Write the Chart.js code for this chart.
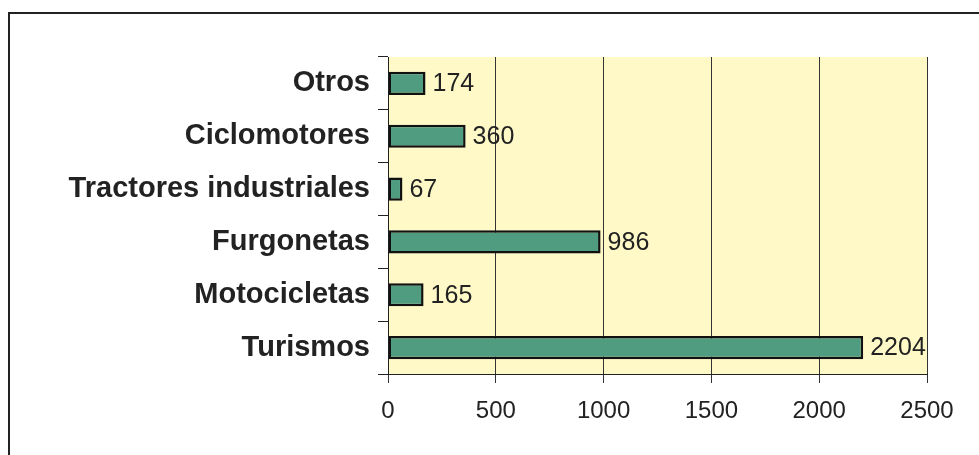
<!DOCTYPE html>
<html>
<head>
<meta charset="utf-8">
<script src="https://cdn.jsdelivr.net/npm/chart.js@4"></script>
<style>
  html, body { margin: 0; padding: 0; background: #fff; }
  #wrap { position: relative; width: 979px; height: 455px; overflow: hidden; }
  #frame { position: absolute; left: 8px; top: 12px; width: 1000px; height: 500px;
           border-left: 2px solid #222; border-top: 2px solid #222; }
  canvas { position: absolute; left: 0; top: 0; }
</style>
</head>
<body>
<div id="wrap">
  <div id="frame"></div>
  <canvas id="chart" width="979" height="455"></canvas>
</div>
<script>
// categories from top to bottom
const categories = ['Otros', 'Ciclomotores', 'Tractores industriales', 'Furgonetas', 'Motocicletas', 'Turismos'];
const values = [174, 360, 67, 986, 165, 2204];
const xTicks = [0, 500, 1000, 1500, 2000, 2500];

// yellow plot background
const plotBg = {
  id: 'plotBg',
  beforeDraw(chart) {
    const { ctx, chartArea: a } = chart;
    ctx.save();
    ctx.fillStyle = '#fff9c8';
    ctx.fillRect(a.left, a.top, a.right - a.left, a.bottom - a.top);
    ctx.restore();
  }
};

// value text right of each bar
const valueLabels = {
  id: 'valueLabels',
  afterDatasetsDraw(chart) {
    const { ctx } = chart;
    const meta = chart.getDatasetMeta(0);
    ctx.save();
    ctx.font = '25px Arial, "Liberation Sans", sans-serif';
    ctx.fillStyle = '#222';
    ctx.textBaseline = 'middle';
    ctx.textAlign = 'left';
    meta.data.forEach((bar, i) => {
      ctx.fillText(String(values[i]), bar.x + 7, bar.y + 1);
    });
    ctx.restore();
  }
};

new Chart(document.getElementById('chart'), {
  type: 'bar',
  data: {
    labels: categories,
    datasets: [{
      data: values,
      backgroundColor: '#4f9c80',
      borderColor: '#111',
      borderWidth: 2.5,
      borderSkipped: false,
      barPercentage: 0.44,
      categoryPercentage: 1
    }]
  },
  options: {
    indexAxis: 'y',
    responsive: false,
    animation: false,
    layout: { padding: { left: 0, right: 52, top: 57, bottom: 0 } },
    plugins: { legend: { display: false }, tooltip: { enabled: false } },
    scales: {
      x: {
        min: 0,
        max: 2500,
        afterFit(scale) { scale.height = 81; },
        afterBuildTicks(scale) { scale.ticks = xTicks.map(v => ({ value: v })); },
        grid: { color: '#333', lineWidth: 1, tickLength: 9, drawTicks: true },
        border: { display: true, color: '#222', width: 1 },
        ticks: {
          color: '#222',
          padding: 14,
          callback: v => String(v),
          font: { family: 'Arial, "Liberation Sans", sans-serif', size: 24 }
        }
      },
      y: {
        afterFit(scale) { scale.width = 388; },
        grid: { offset: true, drawOnChartArea: false, color: '#222', tickLength: 10 },
        border: { display: true, color: '#222', width: 1 },
        ticks: {
          color: '#222',
          padding: 8,
          font: { family: 'Arial, "Liberation Sans", sans-serif', size: 29, weight: 'bold' }
        }
      }
    }
  },
  plugins: [plotBg, valueLabels]
});
</script>
</body>
</html>
